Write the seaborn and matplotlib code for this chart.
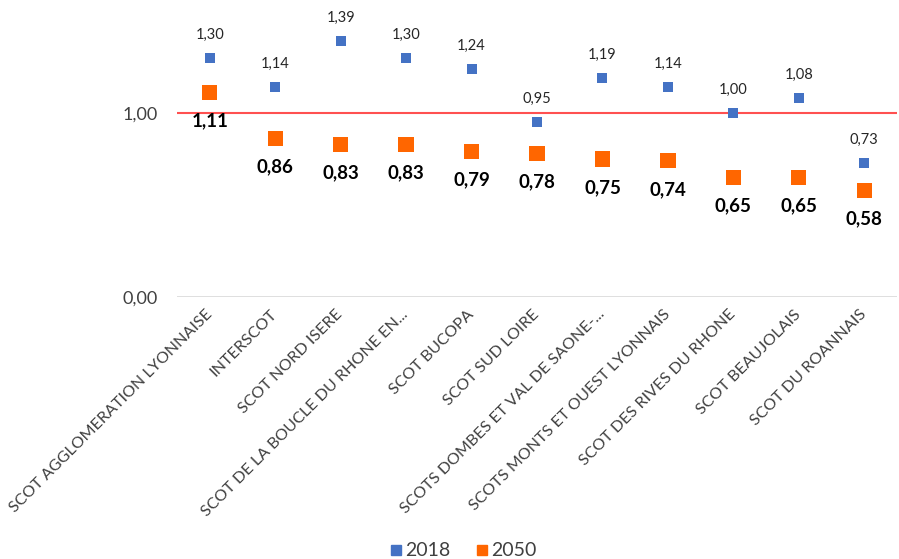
import pandas as pd
import numpy as np
import matplotlib.pyplot as plt
import seaborn as sns
from matplotlib.lines import Line2D

categories = [
    "SCOT AGGLOMERATION LYONNAISE",
    "INTERSCOT",
    "SCOT NORD ISERE",
    "SCOT DE LA BOUCLE DU RHONE EN...",
    "SCOT BUCOPA",
    "SCOT SUD LOIRE",
    "SCOTS DOMBES ET VAL DE SAONE-...",
    "SCOTS MONTS ET OUEST LYONNAIS",
    "SCOT DES RIVES DU RHONE",
    "SCOT BEAUJOLAIS",
    "SCOT DU ROANNAIS",
]
values_2018 = [1.30, 1.14, 1.39, 1.30, 1.24, 0.95, 1.19, 1.14, 1.00, 1.08, 0.73]
values_2050 = [1.11, 0.86, 0.83, 0.83, 0.79, 0.78, 0.75, 0.74, 0.65, 0.65, 0.58]
y_ticks = [0, 1]
y_tick_labels = ["0,00", "1,00"]

blue = "#4472C4"
orange = "#FF6600"

sns.set_style("white")
plt.rcParams["font.family"] = ["Lato", "DejaVu Sans"]

df = pd.DataFrame({"cat": categories, "y2018": values_2018, "y2050": values_2050})

fig = plt.figure(figsize=(8.99, 5.59), dpi=100)
ax = fig.add_axes([177 / 899, 1 - 297 / 559, 720 / 899, 297 / 559])

sns.scatterplot(data=df, x="cat", y="y2018", ax=ax, color=blue, marker="s", s=52,
                edgecolor="none", zorder=4)
sns.scatterplot(data=df, x="cat", y="y2050", ax=ax, color=orange, marker="s", s=120,
                edgecolor="none", zorder=4)

ax.axhline(1.0, color="#FF5050", lw=1.5, zorder=2)
ax.axhline(0.0, color="#D9D9D9", lw=1.2, zorder=1)

for i, (a, b) in enumerate(zip(values_2018, values_2050)):
    ax.annotate(f"{a:.2f}".replace(".", ","), (i, a), xytext=(0, 16.5), textcoords="offset points",
                ha="center", va="center", fontsize=10.5, color="#262626")
    ax.annotate(f"{b:.2f}".replace(".", ","), (i, b), xytext=(0, -20.5), textcoords="offset points",
                ha="center", va="center", fontsize=13.5, fontweight="bold", color="black")

ax.set_xlim(-0.5, len(categories) - 0.5)
ax.set_ylim(0, 297 / 184)
ax.set_yticks(y_ticks)
ax.set_yticklabels(y_tick_labels, fontsize=13, color="#404040")
ax.tick_params(axis="y", length=0, pad=14)
ax.tick_params(axis="x", length=0, pad=11)
ax.set_xticks(range(len(categories)))
ax.set_xticklabels(categories, rotation=45, ha="right", va="center",
                   rotation_mode="anchor", fontsize=11.6, color="#404040")
ax.set_xlabel("")
ax.set_ylabel("")
sns.despine(ax=ax, left=True, bottom=True)

handles = [
    Line2D([], [], marker="s", color=blue, linestyle="none", markersize=6.5),
    Line2D([], [], marker="s", color=orange, linestyle="none", markersize=6.5),
]
fig.legend(handles, ["2018", "2050"], loc="lower center", bbox_to_anchor=(0.512, -0.032),
           ncol=2, frameon=False, fontsize=14, handletextpad=-0.1, columnspacing=1.0,
           handlelength=1.2, labelcolor="#404040")

fig.savefig("out.png", dpi=100)
